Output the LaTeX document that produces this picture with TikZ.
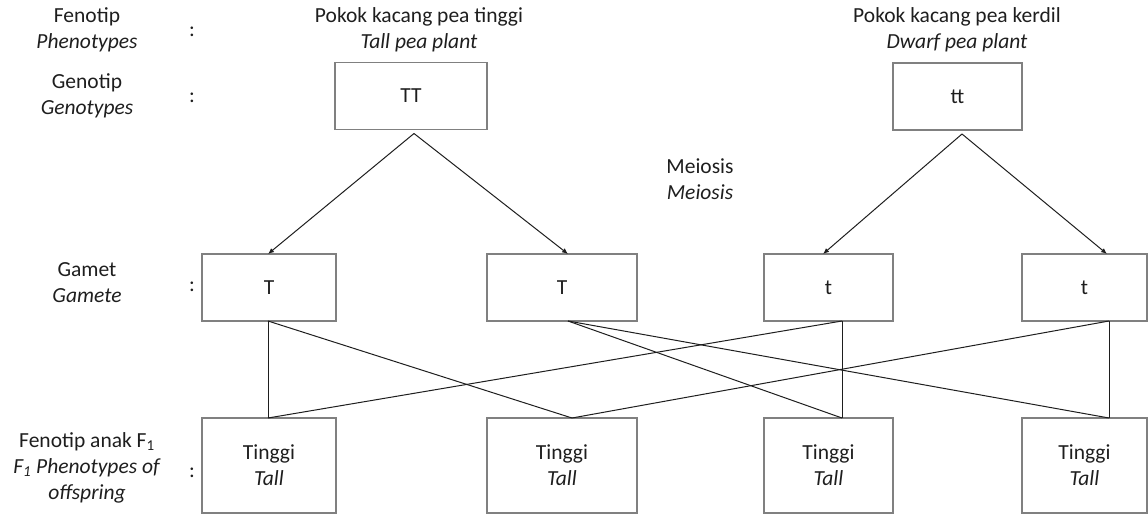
\documentclass[tikz,border=0pt]{standalone}
\usepackage{fontspec}
\setmainfont{Carlito}
\usetikzlibrary{positioning,arrows.meta}
\definecolor{PGInk}{HTML}{1E1E1E}
\definecolor{PGBorder}{HTML}{808080}
\tikzset{
  pgBase/.style={
    font=\fontsize{21.5pt}{26pt}\selectfont,
    text=PGInk,
    align=center,
    inner sep=0pt,
    outer sep=0pt
  },
  pgBox/.style={
    pgBase,
    draw=PGBorder,
    line width=1.3pt,
    minimum height=67pt
  },
  pgLabel/.style={
    pgBase
  },
  pgArrow/.style={
    line width=1pt,
    color=PGInk,
    -{Latex[length=6pt,width=5pt]}
  },
  pgLine/.style={
    line width=1pt,
    color=PGInk
  }
}
\begin{document}
\begin{tikzpicture}[x=1pt,y=1pt]
    \useasboundingbox (0,0) rectangle (1148,-516);

    % Label kiri
    \node (lblFen) [pgLabel] at (87,-30) {Fenotip\\\textit{Phenotypes}};
    \node (lblGen) [pgLabel] at (87,-96) {Genotip\\\textit{Genotypes}};
    \node (lblGam) [pgLabel] at (87,-283) {Gamet\\\textit{Gamete}};
    \node (lblAnak) [pgLabel] at (87,-468) {Fenotip anak F\textsubscript{1}\\\textit{F\textsubscript{1} Phenotypes of}\\\textit{offspring}};

    \node (colFen) [pgLabel] at (192,-32) {:};
    \node (colGen) [pgLabel] at (192,-98) {:};
    \node (colGam) [pgLabel] at (192,-287) {:};
    \node (colAnak) [pgLabel] at (192,-473) {:};

    % Induk
    \node (fenTall) [pgLabel] at (419,-30) {Pokok kacang pea tinggi\\\textit{Tall pea plant}};
    \node (fenDwarf) [pgLabel] at (957,-30) {Pokok kacang pea kerdil\\\textit{Dwarf pea plant}};
    \node (pTT) [pgBox, minimum width=152pt] at (411,-96) {TT};
    \node (ptt) [pgBox, minimum width=129pt] at (957.5,-96.5) {tt};

    \node (meiosis) [pgLabel] at (700,-179) {Meiosis\\\textit{Meiosis}};

    % Gamet
    \node (g1) [pgBox, minimum width=134pt] at (269,-287.5) {T};
    \node (g2) [pgBox, right=151pt of g1, minimum width=150pt] {T};
    \node (g3) [pgBox, right=127pt of g2, minimum width=129pt] {t};
    \node (g4) [pgBox, right=129pt of g3, minimum width=125pt] {t};

    % Anak F1
    \node (f1) [pgBox, below=97pt of g1, minimum width=134pt, minimum height=95pt] {Tinggi\\\textit{Tall}};
    \node (f2) [pgBox, below=97pt of g2, minimum width=150pt, minimum height=95pt] {Tinggi\\\textit{Tall}};
    \node (f3) [pgBox, below=97pt of g3, minimum width=129pt, minimum height=95pt] {Tinggi\\\textit{Tall}};
    \node (f4) [pgBox, below=97pt of g4, minimum width=125pt, minimum height=95pt] {Tinggi\\\textit{Tall}};

    % Anak panah meiosis
    \draw [pgArrow] ([xshift=3pt,yshift=-4pt]pTT.south) -- ([xshift=-1pt]g1.north);
    \draw [pgArrow] ([xshift=3pt,yshift=-4pt]pTT.south) -- ([xshift=6pt]g2.north);
    \draw [pgArrow] ([xshift=4.5pt,yshift=-4pt]ptt.south) -- ([xshift=-5.5pt]g3.north);
    \draw [pgArrow] ([xshift=4.5pt,yshift=-4pt]ptt.south) -- ([xshift=22.5pt]g4.north);

    % Persenyawaan
    \draw [pgLine] ([xshift=-1pt]g1.south) -- ([xshift=-1pt]f1.north);
    \draw [pgLine] ([xshift=-1pt]g1.south) -- ([xshift=10pt]f2.north);
    \draw [pgLine] ([xshift=6pt]g2.south) -- ([xshift=13.5pt]f3.north);
    \draw [pgLine] ([xshift=6pt]g2.south) -- ([xshift=24.5pt]f4.north);
    \draw [pgLine] ([xshift=13.5pt]g3.south) -- ([xshift=-1pt]f1.north);
    \draw [pgLine] ([xshift=13.5pt]g3.south) -- ([xshift=13.5pt]f3.north);
    \draw [pgLine] ([xshift=24.5pt]g4.south) -- ([xshift=10pt]f2.north);
    \draw [pgLine] ([xshift=24.5pt]g4.south) -- ([xshift=24.5pt]f4.north);
\end{tikzpicture}
\end{document}
